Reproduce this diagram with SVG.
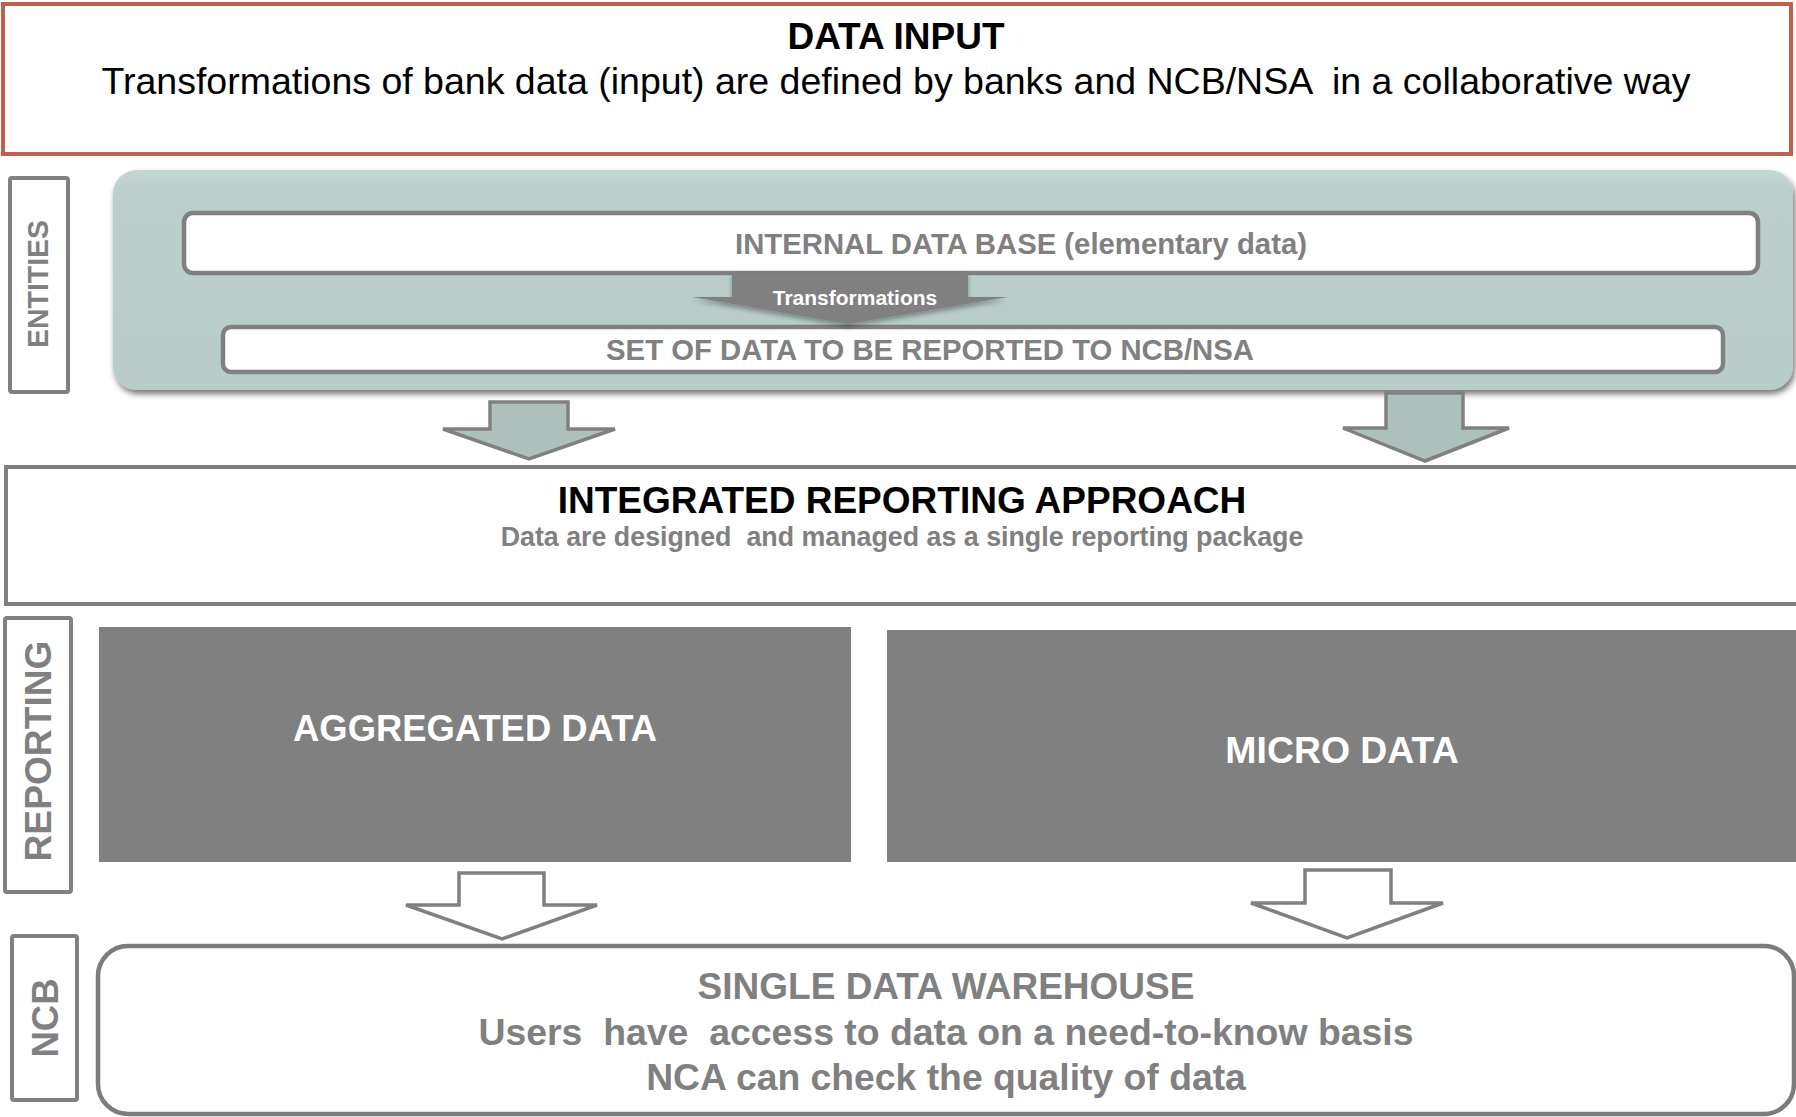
<svg xmlns="http://www.w3.org/2000/svg" width="1796" height="1117" viewBox="0 0 1796 1117">
  <defs>
    <style>
      text { font-family: "Liberation Sans", Arial, Helvetica, sans-serif; font-weight: bold; white-space: pre; }
      .title { font-size: 37px; fill: #000000; text-anchor: middle; }
      .lead { font-size: 37.5px; font-weight: normal; fill: #000000; text-anchor: middle; }
      .grey { fill: #808080; text-anchor: middle; }
      .white { fill: #ffffff; text-anchor: middle; }
      .side { fill: #808080; text-anchor: middle; }
      .tag { fill: #ffffff; stroke: #808080; stroke-width: 4; }
      .inner { fill: #ffffff; stroke: #808080; stroke-width: 4.5; }
      .solid { fill: #808080; }
      .arrow-teal { fill: #adc0bb; stroke: #808080; stroke-width: 3.5; stroke-linejoin: miter; }
      .arrow-open { fill: #ffffff; stroke: #808080; stroke-width: 3.5; stroke-linejoin: miter; }
    </style>
    <linearGradient id="tealFill" x1="0" y1="0" x2="0" y2="1">
      <stop offset="0" stop-color="#c6d8d5"/>
      <stop offset="0.08" stop-color="#bbcfcc"/>
      <stop offset="1" stop-color="#b8ccc9"/>
    </linearGradient>
    <filter id="panelShadow" x="-5%" y="-10%" width="110%" height="125%">
      <feGaussianBlur in="SourceAlpha" stdDeviation="3"/>
      <feOffset dx="2" dy="4" result="blur"/>
      <feComponentTransfer><feFuncA type="linear" slope="0.55"/></feComponentTransfer>
      <feMerge><feMergeNode/><feMergeNode in="SourceGraphic"/></feMerge>
    </filter>
    <filter id="softArrow" x="-10%" y="-30%" width="120%" height="180%">
      <feGaussianBlur in="SourceAlpha" stdDeviation="2.5"/>
      <feOffset dx="0" dy="3"/>
      <feComponentTransfer><feFuncA type="linear" slope="0.35"/></feComponentTransfer>
      <feMerge><feMergeNode/><feMergeNode in="SourceGraphic"/></feMerge>
    </filter>
  </defs>

  <rect width="1796" height="1117" fill="#ffffff"/>

  <!-- Data input banner -->
  <g id="data-input">
    <rect x="3" y="4" width="1788" height="150" fill="#ffffff" stroke="#bf5f4c" stroke-width="4"/>
    <text class="title" x="896" y="49">DATA INPUT</text>
    <text class="lead" x="896" y="94">Transformations of bank data (input) are defined by banks and NCB/NSA  in a collaborative way</text>
  </g>

  <!-- Side labels -->
  <g id="label-entities">
    <rect class="tag" x="10" y="178" width="58" height="214" rx="2"/>
    <text class="side" font-size="29" transform="translate(48 284) rotate(-90)" textLength="128" lengthAdjust="spacingAndGlyphs">ENTITIES</text>
  </g>
  <g id="label-reporting">
    <rect class="tag" x="5" y="618" width="66" height="274" rx="2"/>
    <text class="side" font-size="37" transform="translate(51 751) rotate(-90)" textLength="221" lengthAdjust="spacingAndGlyphs">REPORTING</text>
  </g>
  <g id="label-ncb">
    <rect class="tag" x="12" y="936" width="65" height="164" rx="2"/>
    <text class="side" font-size="37" transform="translate(58 1018) rotate(-90)" textLength="79" lengthAdjust="spacingAndGlyphs">NCB</text>
  </g>

  <!-- Entities panel -->
  <g id="entities-panel">
    <rect x="113" y="170" width="1680" height="220" rx="24" fill="url(#tealFill)" filter="url(#panelShadow)"/>
  </g>
  <g id="internal-db">
    <rect class="inner" x="184" y="213" width="1574" height="60" rx="9"/>
    <text class="grey" font-size="29.3" x="1021" y="254">INTERNAL DATA BASE (elementary data)</text>
  </g>
  <g id="reported-set">
    <rect class="inner" x="223" y="327" width="1500" height="45" rx="8"/>
    <text class="grey" font-size="29.3" x="930" y="360">SET OF DATA TO BE REPORTED TO NCB/NSA</text>
  </g>
  <g id="transformations">
    <path d="M732,273 H968 V297 H1008 L848,324 L692,297 H732 Z" fill="#808080" filter="url(#softArrow)"/>
    <text class="white" font-size="21" x="855" y="305">Transformations</text>
  </g>

  <!-- Integrated reporting approach -->
  <g id="integrated">
    <rect x="6" y="467" width="1800" height="137" fill="#ffffff" stroke="#808080" stroke-width="4"/>
    <text class="title" font-size="37.2" x="902" y="513">INTEGRATED REPORTING APPROACH</text>
    <text class="grey" font-size="26.8" x="902" y="546">Data are designed  and managed as a single reporting package</text>
  </g>

  <!-- Reporting blocks -->
  <g id="aggregated">
    <rect class="solid" x="99" y="627" width="752" height="235"/>
    <text class="white" font-size="36.4" x="475" y="741">AGGREGATED DATA</text>
  </g>
  <g id="micro">
    <rect class="solid" x="887" y="630" width="920" height="232"/>
    <text class="white" font-size="37.4" x="1342" y="763">MICRO DATA</text>
  </g>

  <!-- Single data warehouse -->
  <g id="warehouse">
    <rect x="98" y="946" width="1696" height="168" rx="30" fill="#ffffff" stroke="#7c7c7c" stroke-width="4.5"/>
    <text class="grey" font-size="37" x="946" y="999">SINGLE DATA WAREHOUSE</text>
    <text class="grey" font-size="37.4" x="946" y="1045">Users  have  access to data on a need-to-know basis</text>
    <text class="grey" font-size="37.3" x="946" y="1090">NCA can check the quality of data</text>
  </g>

  <!-- Connectors -->
  <g id="connectors">
    <path class="arrow-teal" d="M490,402 H568 V429 H615 L529,459 L443,429 H490 Z"/>
    <path class="arrow-teal" d="M1386,393 H1463 V428 H1509 L1425,461 L1343,428 H1386 Z"/>
    <path class="arrow-open" d="M459,873 H544 V905 H597 L502,939 L406,905 H459 Z"/>
    <path class="arrow-open" d="M1305,870 H1391 V903 H1443 L1347,938 L1251,903 H1305 Z"/>
  </g>
</svg>
